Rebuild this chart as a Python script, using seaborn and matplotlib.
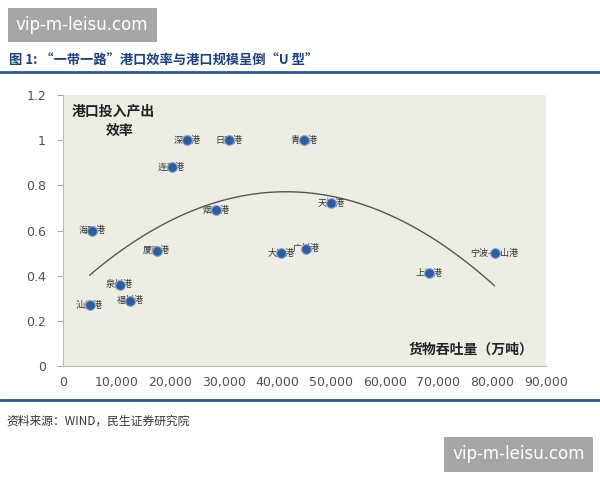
import matplotlib
matplotlib.use("Agg")
import matplotlib.pyplot as plt
import seaborn as sns
import pandas as pd

ports = ['深圳港', '日照港', '青岛港', '连云港', '烟台港', '天津港', '海口港', '厦门港',
         '大连港', '广州港', '宁波-舟山港', '上海港', '泉州港', '汕头港', '福州港']
throughput = [23200, 31000, 45000, 20300, 28600, 50000, 5400, 17500,
              40700, 45400, 80500, 68200, 10600, 5000, 12600]
efficiency = [1.0, 1.0, 1.0, 0.88, 0.69, 0.72, 0.60, 0.51,
              0.50, 0.52, 0.50, 0.41, 0.36, 0.27, 0.29]
x_ticks = [0, 10000, 20000, 30000, 40000, 50000, 60000, 70000, 80000, 90000]
y_ticks = [0, 0.2, 0.4, 0.6, 0.8, 1, 1.2]

df = pd.DataFrame({'port': ports, 'throughput': throughput, 'efficiency': efficiency})

sns.set_style("white")
plt.rcParams['font.family'] = ['Noto Sans CJK SC', 'DejaVu Sans']

fig = plt.figure(figsize=(6, 4.8), dpi=100)
ax = fig.add_axes([0.1045, 0.2375, 0.805, 0.5645])
ax.set_facecolor('#EEEDE3')

sns.regplot(data=df, x='throughput', y='efficiency', order=2, ci=None, scatter=False,
            truncate=True, color='#555555', line_kws={'linewidth': 1}, ax=ax)
sns.scatterplot(data=df, x='throughput', y='efficiency', s=50, color='#2F5C9E',
                edgecolor='#8FA9D4', linewidth=0.8, zorder=5, ax=ax)

for p, xv, yv in zip(ports, throughput, efficiency):
    ax.text(xv, yv, p, fontsize=6.5, color='#333333', ha='center', va='center', zorder=4)

ax.set_xlim(0, 90000)
ax.set_ylim(0, 1.2)
ax.set_xticks(x_ticks)
ax.set_xticklabels([f'{v:,}' for v in x_ticks], family='DejaVu Sans')
ax.set_yticks(y_ticks)
ax.set_yticklabels([f'{v:g}' for v in y_ticks], family='DejaVu Sans')
ax.tick_params(axis='both', labelsize=9, colors='#505050')
ax.tick_params(axis='y', length=4, width=0.6, color='#999999', pad=8, left=True)
ax.tick_params(axis='x', length=0, pad=7)
ax.set_xlabel('')
ax.set_ylabel('')
for s in ['top', 'right']:
    ax.spines[s].set_visible(False)
for s in ['left', 'bottom']:
    ax.spines[s].set_color('#BBBBBB')
    ax.spines[s].set_linewidth(0.8)

ax.text(0.018, 0.965, '港口投入产出', transform=ax.transAxes, fontsize=10,
        fontweight='bold', color='#222222', va='top', ha='left')
ax.text(0.09, 0.895, '效率', transform=ax.transAxes, fontsize=10,
        fontweight='bold', color='#222222', va='top', ha='left')
ax.text(0.975, 0.06, '货物吞吐量（万吨）', transform=ax.transAxes, fontsize=10,
        fontweight='bold', color='#222222', va='center', ha='right')

# header / footer
fig.text(0.015, 0.873, '图 1: “一带一路”港口效率与港口规模呈倒“U 型”', fontsize=9.5,
         fontweight='bold', color='#1F3F7A', va='center', ha='left')
fig.add_artist(plt.Line2D([0, 1], [0.85, 0.85], color='#2A5A8A', linewidth=2))
fig.add_artist(plt.Line2D([0, 1], [0.166, 0.166], color='#2A5A8A', linewidth=2))
fig.text(0.01, 0.123, '资料来源：WIND，民生证券研究院', fontsize=8.5, color='#333333',
         va='center', ha='left')

# watermarks
fig.text(0.137, 0.948, 'vip-m-leisu.com', fontsize=12, color='white', ha='center', va='center',
         family='DejaVu Sans',
         bbox=dict(boxstyle='square,pad=0.5', facecolor='#A6A6A6', edgecolor='none'))
fig.text(0.864, 0.0535, 'vip-m-leisu.com', fontsize=12, color='white', ha='center', va='center',
         family='DejaVu Sans',
         bbox=dict(boxstyle='square,pad=0.5', facecolor='#A6A6A6', edgecolor='none'))

fig.savefig('out.png', dpi=100, facecolor='white')
